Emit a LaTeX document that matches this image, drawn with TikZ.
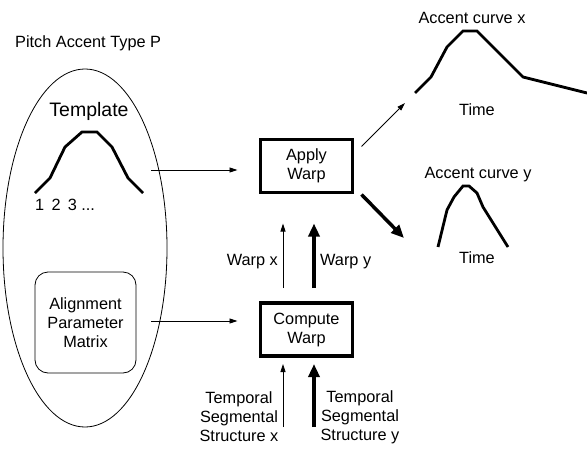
\documentclass[tikz,border=0pt]{standalone}
\usepackage{fontspec}
\setmainfont{Liberation Sans}
\usetikzlibrary{arrows.meta}
\tikzset{
	warp diagram/.cd,
	thin arrow/.style = {
		line width = 0.8pt,
		-{Triangle[length = 8pt, width = 5pt]}
	},
	thick arrow/.style = {
		line width = 3.5pt,
		-{Triangle[length = 13pt, width = 11pt]}
	},
	curve/.style = {
		line width = 2.8pt,
		line join = miter
	},
}

\begin{document}
\begin{tikzpicture}[
		x = 1pt,
		y = -1pt,
		label text/.style = {
			font = \fontsize{16.3}{19}\selectfont,
			inner sep = 0pt
		},
		process box/.style = {
			draw,
			label text,
			line width = 3.5pt,
			outer sep = 0pt,
			minimum width = 92pt,
			minimum height = 53pt,
			align = center
		}]
		\useasboundingbox (0, 0) rectangle (587, 450);
		\def\gapin{23pt}
		\begin{scope}
			\node[label text, anchor = base west] (accent type) at (15, 47) {Pitch Accent Type P};
			\draw[line width = 0.8pt] (85, 248) ellipse [x radius = 82pt, y radius = 179pt];
			\node[label text, anchor = base, font = \fontsize{19.5}{22}\selectfont] (template) at (89, 116) {Template};
			\draw[warp diagram/curve] (35, 193) -- (50, 178) -- (65, 147) -- (82, 132) -- (97, 132) -- (112, 147) -- (128, 178) -- (143, 193);
			\node[label text, anchor = base west] (points) at (35, 210) {1\, 2\, 3 ...};
			\coordinate (template out) at (151, 170);
			\node[label text, draw, line width = 0.8pt, outer sep = 0pt, rounded corners = 13pt, minimum width = 101pt, minimum height = 101pt, align = center] (alignment) at (85.5, 322.5) {Alignment\\Parameter\\Matrix};
		\end{scope}
		\node[process box] (apply) at (306.5, 166) {Apply\\Warp};
		\node[process box] (compute) at (306.5, 329.5) {Compute\\Warp};
		\draw[warp diagram/thin arrow, shorten > = \gapin] (template out) -- (apply.west |- template out);
		\draw[warp diagram/thin arrow, shorten < = 15pt, shorten > = \gapin] (alignment.east) ++(0, -1.5) coordinate (alignment out) -- (compute.west |- alignment out);
		% warps handed from compute to apply
		\draw[warp diagram/thin arrow, shorten < = 15pt, shorten > = 31pt] ([xshift = -23.5pt]compute.north) -- ([xshift = -23.5pt]apply.south);
		\draw[warp diagram/thick arrow, shorten < = 15pt, shorten > = 31pt] ([xshift = 7.5pt]compute.north) -- ([xshift = 7.5pt]apply.south);
		\node[label text, anchor = base east] (warp x) at (278, 265) {Warp x};
		\node[label text, anchor = base west] (warp y) at (320, 265) {Warp y};
		% segmental structures into compute
		\coordinate (structure x) at (283, 427);
		\coordinate (structure y) at (314, 427);
		\draw[warp diagram/thin arrow, shorten > = 8pt] (structure x) -- (structure x |- compute.south);
		\draw[warp diagram/thick arrow, shorten > = 8pt] (structure y) -- (structure y |- compute.south);
		\node[label text, align = center] (temporal x) at (239, 417) {Temporal\\Segmental\\Structure x};
		\node[label text, align = center] (temporal y) at (360, 417) {Temporal\\Segmental\\Structure y};
		% accent curves
		\node[label text, anchor = base] (curve x) at (472, 23) {Accent curve x};
		\draw[warp diagram/curve] (415, 93) -- (431, 77) -- (447, 47) -- (463, 31) -- (477, 31) -- (523, 77) -- (587, 93);
		\node[label text, anchor = base] (time x) at (477, 115) {Time};
		\coordinate (curve x in) at (405, 103);
		\node[label text, anchor = base] (curve y) at (478, 178) {Accent curve y};
		\draw[warp diagram/curve] (438, 247) -- (447, 210) -- (454, 197) -- (463, 186) -- (469, 186) -- (477, 193) -- (483, 207) -- (508, 247);
		\node[label text, anchor = base] (time y) at (477, 263) {Time};
		\coordinate (curve y in) at (404, 238);
		\draw[warp diagram/thin arrow] (apply.north east) ++(9, 7) coordinate (apply out x) -- (curve x in);
		\draw[warp diagram/thick arrow] (apply.south east) ++(9, 2) coordinate (apply out y) -- (curve y in);
	\end{tikzpicture}
\end{document}
